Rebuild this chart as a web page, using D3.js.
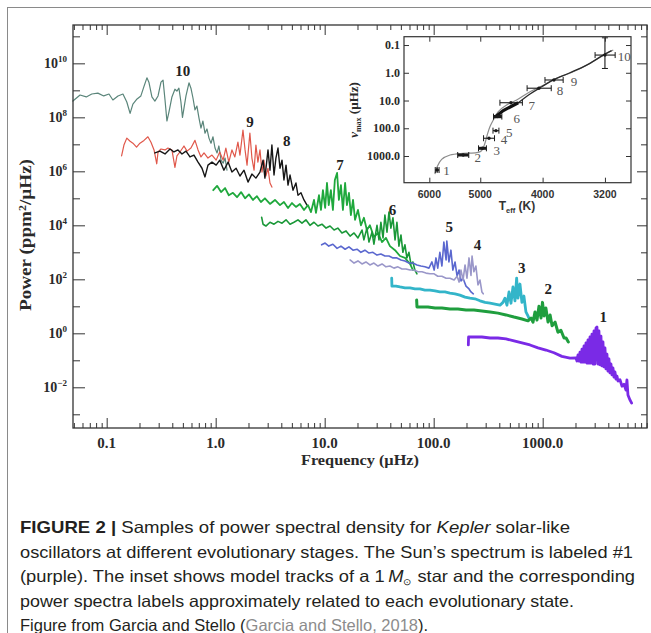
<!DOCTYPE html>
<html><head><meta charset="utf-8">
<script src="https://cdn.jsdelivr.net/npm/d3@7"></script>
<style>body{margin:0;background:#fff}svg{display:block}</style>
</head><body>
<svg id="c" width="651" height="633"></svg>
<script>
// ================= DATA =================
const freqTickValues = [0.1, 1, 10, 100, 1000];
const freqTickLabels = ["0.1", "1.0", "10.0", "100.0", "1000.0"];
const powerTickExponents = [-2, 0, 2, 4, 6, 8, 10];
const teffTickValues = [6000, 5000, 4000, 3200];
const teffTickLabels = ["6000", "5000", "4000", "3200"];
const numaxTickValues = [0.1, 1, 10, 100, 1000];
const numaxTickLabels = ["0.1", "1.0", "10.0", "100.0", "1000.0"];

// power spectra: [frequency (µHz), power (ppm^2/µHz)]
const spec10 = [[0.049,4.0e8],[0.057,6.7e8],[0.065,5.7e8],[0.073,7.3e8],[0.083,7.9e8],[0.094,6.2e8],[0.105,7.3e8],[0.114,4.4e8],[0.127,6.2e8],[0.141,7.3e8],[0.153,3.7e8],[0.164,1.4e8],[0.174,3.1e8],[0.190,4.8e8],[0.206,6.2e8],[0.220,1.4e9],[0.234,2.9e9],[0.244,2.0e9],[0.260,5.7e8],[0.277,4.0e8],[0.296,6.2e8],[0.315,2.0e9],[0.329,2.4e9],[0.343,4.4e8],[0.357,7.3e7],[0.373,1.6e8],[0.397,5.7e8],[0.423,1.1e9],[0.441,9.4e8],[0.460,1.2e9],[0.480,3.7e8],[0.496,1.0e8],[0.512,2.2e8],[0.534,6.2e8],[0.569,1.9e9],[0.593,1.2e9],[0.619,5.2e8],[0.646,1.9e8],[0.673,2.6e8],[0.703,9.4e7],[0.733,4.0e7],[0.764,7.3e7],[0.798,2.6e7],[0.832,3.7e7],[0.868,1.7e7],[0.906,1.1e7],[0.945,1.9e7],[0.986,7.3e6],[1.03,4.8e6],[1.07,8.7e6],[1.12,2.6e6],[1.17,2.0e6],[1.22,3.1e6],[1.27,1.1e6]];
const spec9 = [[0.137,3.7e6],[0.144,9.4e6],[0.153,1.7e7],[0.164,1.3e7],[0.174,1.1e7],[0.188,7.9e6],[0.202,1.1e7],[0.220,1.4e7],[0.239,1.9e7],[0.255,1.2e7],[0.272,6.2e6],[0.288,1.9e6],[0.296,5.2e6],[0.315,6.7e6],[0.343,6.2e6],[0.365,7.3e6],[0.397,6.2e6],[0.423,1.4e6],[0.441,3.7e6],[0.470,5.2e6],[0.512,8.7e6],[0.546,5.6e6],[0.593,7.3e6],[0.646,1.4e7],[0.689,6.2e6],[0.733,3.4e6],[0.782,4.8e6],[0.850,3.1e6],[0.925,4.0e6],[1.01,2.6e6],[1.09,5.2e6],[1.17,2.6e6],[1.24,7.3e6],[1.32,2.2e6],[1.41,6.2e6],[1.50,3.4e6],[1.60,1.2e7],[1.67,4.0e6],[1.78,3.4e7],[1.86,6.2e6],[1.94,1.7e6],[2.06,2.6e7],[2.15,3.1e6],[2.25,1.1e6],[2.34,9.4e6],[2.44,2.2e6],[2.55,6.2e6],[2.66,9.4e5],[2.77,2.6e6],[2.89,6.7e5],[3.02,1.3e6],[3.15,3.7e5],[3.28,2.6e5]];
const spec8 = [[0.277,4.8e6],[0.308,5.6e6],[0.343,4.4e6],[0.381,6.7e6],[0.414,5.2e6],[0.451,6.2e6],[0.491,4.4e6],[0.534,5.6e6],[0.581,3.4e6],[0.632,4.0e6],[0.689,2.2e6],[0.749,1.3e6],[0.798,6.2e5],[0.850,1.7e6],[0.925,2.2e6],[1.01,1.7e6],[1.09,2.6e6],[1.19,1.1e6],[1.30,2.2e6],[1.41,9.4e5],[1.54,1.3e6],[1.67,6.7e5],[1.82,1.1e6],[1.98,4.0e5],[2.15,7.9e5],[2.34,5.6e5],[2.55,9.4e5],[2.72,2.6e6],[2.83,5.6e5],[3.02,6.2e6],[3.15,1.1e6],[3.28,9.4e6],[3.43,7.3e5],[3.57,3.1e6],[3.73,7.3e6],[3.89,1.3e6],[4.06,2.6e6],[4.23,4.8e5],[4.42,1.7e6],[4.61,3.1e5],[4.81,7.3e5],[5.12,2.0e5],[5.45,3.7e5],[5.69,1.3e5],[6.06,1.6e5],[6.46,8.7e4],[6.88,5.6e4]];
const spec7 = [[0.95,2.0e5],[1.03,2.9e5],[1.12,1.7e5],[1.22,2.4e5],[1.32,1.3e5],[1.44,1.6e5],[1.57,1.1e5],[1.71,1.7e5],[1.86,1.0e5],[2.02,1.4e5],[2.20,8.7e4],[2.39,1.2e5],[2.60,7.3e4],[2.83,1.0e5],[3.15,6.2e4],[3.50,8.7e4],[3.89,5.6e4],[4.23,7.3e4],[4.61,4.4e4],[5.01,6.7e4],[5.45,4.8e4],[5.93,6.2e4],[6.46,3.7e4],[7.03,5.6e4],[7.49,3.1e4],[7.98,8.7e4],[8.32,2.9e4],[8.87,1.3e5],[9.25,3.7e4],[9.64,2.0e5],[10.1,4.4e4],[10.5,3.7e5],[10.9,5.6e4],[11.4,2.0e5],[11.9,3.7e4],[12.4,4.8e5],[13.0,8.7e5],[13.5,8.7e4],[14.1,3.1e5],[14.7,3.7e4],[15.4,3.7e5],[16.0,5.6e4],[16.7,1.6e5],[17.4,2.4e4],[18.2,8.7e4],[19.0,1.6e4],[20.2,3.7e4],[21.5,1.0e4],[22.9,1.9e4],[24.4,6.7e3],[26.0,1.0e4],[28.3,3.7e3],[30.8,5.2e3],[33.6,2.4e3],[36.5,3.4e3],[39.7,1.7e3],[44.2,1.2e3],[49.1,7.3e2],[54.6,6.2e2],[60.7,3.7e2],[64.6,2.2e2]];
const spec6 = [[2.64,2.0e4],[2.72,1.1e4],[2.89,9.4e3],[3.15,1.3e4],[3.43,1.1e4],[3.73,1.4e4],[4.06,1.2e4],[4.42,1.6e4],[4.81,1.1e4],[5.23,1.3e4],[5.69,1.6e4],[6.19,1.2e4],[6.73,1.6e4],[7.33,1.0e4],[7.98,1.3e4],[8.67,9.4e3],[9.44,1.1e4],[10.3,7.9e3],[11.2,9.4e3],[12.2,6.7e3],[13.2,7.9e3],[14.4,5.2e3],[15.7,6.2e3],[17.1,4.0e3],[18.6,5.2e3],[20.2,3.4e3],[22.0,6.7e3],[22.9,2.9e3],[24.4,7.9e3],[25.5,2.4e3],[27.2,5.6e3],[28.3,2.0e3],[30.2,1.0e4],[31.5,2.9e3],[32.8,1.3e4],[34.3,3.4e3],[35.7,2.4e4],[37.3,5.6e3],[38.9,3.1e4],[40.5,7.9e3],[42.3,1.9e4],[44.2,2.9e3],[46.0,1.3e4],[48.0,1.7e3],[50.1,4.4e3],[52.2,1.0e3],[54.5,1.9e3],[56.8,6.2e2],[59.3,1.0e3],[61.8,3.7e2],[64.5,4.4e2],[67.3,2.2e2],[70.2,1.6e2]];
const spec5 = [[9.38,1.9e3],[10.1,2.2e3],[10.9,1.7e3],[11.9,2.0e3],[13.0,1.4e3],[14.1,1.7e3],[15.4,1.3e3],[16.7,1.6e3],[18.2,1.2e3],[19.8,1.3e3],[21.5,1.0e3],[23.4,1.2e3],[25.5,9.4e2],[27.7,1.0e3],[30.2,7.9e2],[32.8,8.7e2],[35.7,7.3e2],[38.9,7.3e2],[42.3,6.2e2],[46.0,6.2e2],[50.1,5.2e2],[54.5,4.8e2],[59.3,4.0e2],[64.5,4.0e2],[70.2,3.4e2],[76.3,3.1e2],[83.1,2.9e2],[90.5,2.6e2],[96.4,4.4e2],[101,2.2e2],[105,6.2e2],[109,2.6e2],[114,1.0e3],[119,3.1e2],[124,2.4e3],[130,5.2e2],[132,2.6e3],[138,4.4e2],[144,1.2e3],[150,2.2e2],[157,4.4e2],[164,1.3e2],[171,2.2e2],[178,87],[186,1.1e2],[198,56],[211,44],[220,34],[231,29]];
const spec4 = [[17.1,5.2e2],[18.6,4.0e2],[20.2,4.8e2],[22.0,3.7e2],[23.9,4.4e2],[26.0,3.4e2],[28.3,4.0e2],[30.8,3.1e2],[33.6,3.7e2],[36.5,2.9e2],[39.7,3.1e2],[43.2,2.6e2],[47.0,2.9e2],[51.2,2.4e2],[55.7,2.4e2],[60.7,2.2e2],[65.9,2.2e2],[71.8,1.9e2],[78.1,1.9e2],[85.0,1.7e2],[92.5,1.6e2],[101,1.6e2],[109,1.3e2],[119,1.3e2],[130,1.1e2],[141,1.1e2],[154,94],[164,1.3e2],[171,79],[178,2.2e2],[186,94],[194,3.4e2],[202,1.1e2],[211,6.2e2],[220,1.4e2],[225,7.3e2],[234,1.9e2],[244,3.1e2],[255,62],[266,94],[277,34],[285,29]];
const spec3 = [[41.2,1.1e2],[41.4,56],[45.1,56],[49.1,52],[54.5,48],[60.7,48],[67.3,44],[74.8,44],[83.1,40],[92.5,40],[103,37],[114,34],[127,34],[141,31],[157,29],[174,26],[194,22],[215,20],[239,19],[266,16],[296,14],[329,13],[365,12],[406,11],[432,14],[451,20],[470,11],[491,34],[512,13],[534,52],[557,16],[577,1.1e2],[593,20],[619,67],[645,14],[673,24],[702,6.2],[733,4.4],[754,3.4]];
const spec2 = [[69.8,17],[70.3,9.4],[78.1,9.4],[88.6,9.4],[103,8.7],[119,8.7],[141,7.9],[167,7.9],[198,7.3],[234,7.3],[277,6.7],[329,6.2],[389,5.6],[461,4.8],[546,4.0],[646,3.4],[734,2.9],[782,3.7],[815,2.6],[851,6.2],[887,3.1],[925,10],[966,3.7],[996,14],[1030,4.4],[1070,8.7],[1120,2.6],[1170,4.8],[1220,1.9],[1300,2.6],[1380,1.1],[1470,1.3],[1570,0.67],[1640,0.67],[1720,0.48]];
const spec1 = [[208,0.37],[209,0.73],[239,0.73],[277,0.73],[329,0.67],[389,0.67],[461,0.62],[546,0.52],[646,0.44],[765,0.37],[906,0.29],[1070,0.24],[1270,0.19],[1500,0.14],[1780,0.12],[2021,0.122],[2064,0.094],[2109,0.157],[2153,0.094],[2199,0.20],[2246,0.086],[2294,0.26],[2343,0.086],[2393,0.34],[2444,0.086],[2496,0.44],[2549,0.079],[2603,0.565],[2659,0.079],[2716,0.73],[2774,0.079],[2833,0.94],[2893,0.073],[2955,1.22],[3018,0.073],[3083,1.57],[3149,1.71],[3216,0.073],[3284,1.22],[3355,0.068],[3426,0.79],[3499,0.062],[3574,0.48],[3650,0.057],[3728,0.29],[3807,0.048],[3889,0.17],[3972,0.040],[4057,0.112],[4143,0.034],[4232,0.073],[4322,0.029],[4415,0.052],[4509,0.024],[4605,0.037],[4703,0.020],[4804,0.026],[4907,0.017],[5120,0.019],[5340,0.011],[5570,0.013],[5810,0.0079],[5930,0.019],[6060,0.0052],[6320,0.0034],[6550,0.0026]];

const spectrumNames = ["10","9","8","7","6","5","4","3","2","1"];
const spectra = [spec10, spec9, spec8, spec7, spec6, spec5, spec4, spec3, spec2, spec1];
// label anchors [frequency, power]
const spectrumLabelAnchors = [[0.50,5.3e9],[2.06,6.9e7],[4.48,1.4e7],[13.8,1.7e6],[42,3.9e4],[139,8.5e3],[253,1.9e3],[642,2.6e2],[1125,46],[3600,4.1]];

// inset: model tracks [Teff (K), numax (µHz)]
const trackGray = [[5881,4460],[5833,2430],[5741,1316],[5571,920],[5314,800],[5064,760],[4977,644],[4917,348],[4877,175],[4830,88],[4772,50],[4688,25],[4550,14.5],[4389,9.6],[4184,4.8],[3990,2.8],[3804,1.58],[3585,0.92],[3377,0.46],[3181,0.20],[3106,0.15]];
const trackBlack = [[4745,40],[4604,23],[4365,12],[4184,5.8],[4013,3.2],[3851,1.8],[3627,1.0],[3417,0.53],[3219,0.23],[3125,0.16]];
const trackThick = [[4745,40],[4604,23],[4365,12]];
// inset stars: Teff, numax, Teff error (K)
const starLabels = ["1","2","3","4","5","6","7","8","9","10"];
const starTeff = [5834, 5315, 4961, 4846, 4727, 4698, 4480, 4053, 3841, 3200];
const starNumax = [3200, 920, 528, 229, 122, 38, 12, 3.6, 1.82, 0.23];
const starTeffErr = [40, 105, 70, 95, 50, 70, 180, 175, 125, 115];
const star10NumaxRange = [0.7, 0.055];
const starLabelAnchors = [[5640,3390],[5047,1114],[4714,608],[4593,250],[4507,145],[4389,44],[4159,14.5],[3760,4.4],[3576,2.1],[2985,0.26]];

// ================= STYLE =================
const specStyle = {
  "10": {c:"#5a857a", w:1.2}, "9": {c:"#e0574a", w:1.2}, "8": {c:"#161616", w:1.4},
  "7": {c:"#1fa83c", w:1.8}, "6": {c:"#1a9838", w:1.6}, "5": {c:"#5b68cf", w:1.6},
  "4": {c:"#9a97c9", w:1.6}, "3": {c:"#33b5c9", w:2.8}, "2": {c:"#1f9e3e", w:3.0},
  "1": {c:"#7a2ae6", w:2.8}
};
const thickBars = {"2":3, "3":3, "6":3.2};
const SERIF = "'Liberation Serif','Times New Roman',serif";
const SANS = "'Liberation Sans',Arial,sans-serif";
const AX = "#333";

const svg = d3.select("#c");
svg.append("rect").attr("width",651).attr("height",633).attr("fill","#fff");
// outer figure frame
svg.append("rect").attr("x",7.5).attr("y",7.5).attr("width",700).attr("height",700)
  .attr("fill","none").attr("stroke","#8a8a8a").attr("stroke-width",1);

// ================= MAIN PLOT =================
const L=73, R=647, T=25, B=428;
const x = d3.scaleLog().domain([0.0491, 9060]).range([L, R]);
const y = d3.scaleLog().domain([3.11e-4, 2.63e11]).range([B, T]);

const line = d3.line().x(d => x(d[0])).y(d => y(d[1]));
const gS = svg.append("g");
spectra.forEach((s, i) => {
  const st = specStyle[spectrumNames[i]];
  gS.append("path").attr("d", line(s)).attr("fill","none")
    .attr("stroke", st.c).attr("stroke-width", st.w)
    .attr("stroke-linejoin","round").attr("stroke-linecap","round");
});

// axes ticks (inward on all sides)
const minorX = [];
for (let e=-2; e<=3; e++) for (let m=2; m<=9; m++) { const v=m*Math.pow(10,e); if (v>x.domain()[0] && v<x.domain()[1]) minorX.push(v); }
const decY = d3.range(-3, 12).map(e => Math.pow(10,e));
const majY = decY.filter(v => powerTickExponents.includes(Math.round(Math.log10(v))));
const minY = decY.filter(v => !powerTickExponents.includes(Math.round(Math.log10(v))));

function styleAxis(g){ g.select(".domain").remove(); g.selectAll("line").attr("stroke",AX).attr("stroke-width",1); g.selectAll("text").remove(); }
svg.append("g").attr("transform",`translate(0,${B})`).call(d3.axisTop(x).tickValues(freqTickValues).tickSize(10)).call(styleAxis);
svg.append("g").attr("transform",`translate(0,${B})`).call(d3.axisTop(x).tickValues(minorX).tickSize(5)).call(styleAxis);
svg.append("g").attr("transform",`translate(0,${T})`).call(d3.axisBottom(x).tickValues(freqTickValues).tickSize(10)).call(styleAxis);
svg.append("g").attr("transform",`translate(0,${T})`).call(d3.axisBottom(x).tickValues(minorX).tickSize(5)).call(styleAxis);
svg.append("g").attr("transform",`translate(${L},0)`).call(d3.axisRight(y).tickValues(majY).tickSize(12)).call(styleAxis);
svg.append("g").attr("transform",`translate(${L},0)`).call(d3.axisRight(y).tickValues(minY).tickSize(7)).call(styleAxis);
svg.append("g").attr("transform",`translate(${R},0)`).call(d3.axisLeft(y).tickValues(majY).tickSize(10)).call(styleAxis);
svg.append("g").attr("transform",`translate(${R},0)`).call(d3.axisLeft(y).tickValues(minY).tickSize(6)).call(styleAxis);

svg.append("rect").attr("x",L).attr("y",T).attr("width",R-L).attr("height",B-T)
  .attr("fill","none").attr("stroke",AX).attr("stroke-width",1.3);

// tick labels
freqTickValues.forEach((v,i) => {
  svg.append("text").attr("x", x(v)).attr("y", B+20).attr("text-anchor","middle")
    .attr("font-family",SERIF).attr("font-weight","bold").attr("font-size",15).attr("fill","#2a2a2a")
    .text(freqTickLabels[i]);
});
powerTickExponents.forEach(e => {
  const t = svg.append("text").attr("x", L-6).attr("y", y(Math.pow(10,e))+5).attr("text-anchor","end")
    .attr("font-family",SERIF).attr("font-weight","bold").attr("font-size",14).attr("fill","#2a2a2a");
  t.append("tspan").text("10");
  t.append("tspan").attr("dy",-6).attr("font-size",9).text(String(e).replace("-","\u2212"));
});

// axis titles
svg.append("text").attr("x",(L+R)/2).attr("y",465).attr("text-anchor","middle")
  .attr("font-family",SERIF).attr("font-weight","bold").attr("font-size",15).attr("fill","#2a2a2a")
  .attr("textLength",118).attr("lengthAdjust","spacingAndGlyphs").text("Frequency (\u00b5Hz)");
const yt = svg.append("text").attr("transform","translate(31,235) rotate(-90)").attr("text-anchor","middle")
  .attr("font-family",SERIF).attr("font-weight","bold").attr("font-size",16).attr("fill","#2a2a2a")
  .attr("textLength",152).attr("lengthAdjust","spacingAndGlyphs");
yt.append("tspan").text("Power (ppm");
yt.append("tspan").attr("dy",-5).attr("font-size",10).text("2");
yt.append("tspan").attr("dy",5).text("/\u00b5Hz)");

// spectrum labels
spectrumLabelAnchors.forEach((a,i) => {
  svg.append("text").attr("x", x(a[0])).attr("y", y(a[1])).attr("dy","0.35em").attr("text-anchor","middle")
    .attr("font-family",SERIF).attr("font-weight","bold").attr("font-size",15).attr("fill","#222")
    .text(spectrumNames[i]);
});

// ================= INSET =================
const iL=404, iR=631, iT=36.7, iB=182.7;
const xi = d3.scaleLog().domain([6569, 2915]).range([iL, iR]);
const yi = d3.scaleLog().domain([0.0501, 9160]).range([iT, iB]);
svg.append("rect").attr("x",iL).attr("y",iT).attr("width",iR-iL).attr("height",iB-iT).attr("fill","#fff");

const il = d3.line().x(d => xi(d[0])).y(d => yi(d[1])).curve(d3.curveCatmullRom);
svg.append("path").attr("d", il(trackGray)).attr("fill","none").attr("stroke","#8c8c8c").attr("stroke-width",1.2);
svg.append("path").attr("d", il(trackBlack)).attr("fill","none").attr("stroke","#2b2b2b").attr("stroke-width",1.3);
svg.append("path").attr("d", d3.line().x(d=>xi(d[0])).y(d=>yi(d[1]))(trackThick)).attr("fill","none").attr("stroke","#111").attr("stroke-width",3.2);

const gE = svg.append("g").attr("stroke","#1a1a1a").attr("fill","#1a1a1a");
starLabels.forEach((lab,i) => {
  const cx = xi(starTeff[i]), cy = yi(starNumax[i]);
  const x1 = xi(starTeff[i]+starTeffErr[i]), x2 = xi(starTeff[i]-starTeffErr[i]);
  const w = thickBars[lab] || 1.1;
  gE.append("line").attr("x1",x1).attr("x2",x2).attr("y1",cy).attr("y2",cy).attr("stroke-width",w);
  [x1,x2].forEach(xx => gE.append("line").attr("x1",xx).attr("x2",xx).attr("y1",cy-3).attr("y2",cy+3).attr("stroke-width",1));
  if (lab === "1") {
    gE.append("line").attr("x1",cx).attr("x2",cx).attr("y1",cy-3).attr("y2",cy+3).attr("stroke-width",1);
  }
  if (lab === "10") {
    const y1 = yi(star10NumaxRange[0]), y2 = yi(star10NumaxRange[1]);
    gE.append("line").attr("x1",cx).attr("x2",cx).attr("y1",y1).attr("y2",y2).attr("stroke-width",1.1);
    [y1,y2].forEach(yy => gE.append("line").attr("x1",cx-3).attr("x2",cx+3).attr("y1",yy).attr("y2",yy).attr("stroke-width",1));
  }
  gE.append("circle").attr("cx",cx).attr("cy",cy).attr("r",1.7).attr("stroke","none");
});
starLabelAnchors.forEach((a,i) => {
  svg.append("text").attr("x", xi(a[0])).attr("y", yi(a[1])).attr("dy","0.35em").attr("text-anchor","middle")
    .attr("font-family",SERIF).attr("font-size",13).attr("fill","#555").text(starLabels[i]);
});

// inset axes
svg.append("g").attr("transform",`translate(0,${iB})`).call(d3.axisTop(xi).tickValues(teffTickValues).tickSize(5)).call(styleAxis);
svg.append("g").attr("transform",`translate(0,${iT})`).call(d3.axisBottom(xi).tickValues(teffTickValues).tickSize(5)).call(styleAxis);
svg.append("g").attr("transform",`translate(${iL},0)`).call(d3.axisRight(yi).tickValues(numaxTickValues).tickSize(5)).call(styleAxis);
svg.append("g").attr("transform",`translate(${iR},0)`).call(d3.axisLeft(yi).tickValues(numaxTickValues).tickSize(5)).call(styleAxis);
svg.append("rect").attr("x",iL).attr("y",iT).attr("width",iR-iL).attr("height",iB-iT)
  .attr("fill","none").attr("stroke",AX).attr("stroke-width",1.2);

teffTickValues.forEach((v,i) => {
  svg.append("text").attr("x", xi(v)).attr("y", iB+15.5).attr("text-anchor","middle")
    .attr("font-family",SANS).attr("font-weight","bold").attr("font-size",10.5).attr("fill","#333")
    .text(teffTickLabels[i]);
});
numaxTickValues.forEach((v,i) => {
  svg.append("text").attr("x", iL-4).attr("y", yi(v)+4).attr("text-anchor","end")
    .attr("font-family",SERIF).attr("font-weight","bold").attr("font-size",12).attr("fill","#2a2a2a")
    .text(numaxTickLabels[i]);
});
const xt = svg.append("text").attr("x",517).attr("y",210).attr("text-anchor","middle")
  .attr("font-family",SANS).attr("font-weight","bold").attr("font-size",12).attr("fill","#333");
xt.append("tspan").text("T");
xt.append("tspan").attr("dy",3).attr("font-size",7.5).text("eff");
xt.append("tspan").attr("dy",-3).text(" (K)");
const nt = svg.append("text").attr("transform","translate(358,110) rotate(-90)").attr("text-anchor","middle")
  .attr("font-family",SERIF).attr("font-weight","bold").attr("font-size",13).attr("fill","#2a2a2a");
nt.append("tspan").attr("font-style","italic").text("\u03bd");
nt.append("tspan").attr("dy",3).attr("font-size",8).text("max");
nt.append("tspan").attr("dy",-3).text(" (\u00b5Hz)");

// ================= CAPTION =================
const cap = svg.append("g").attr("font-family",SANS).attr("font-size",16.5).attr("fill","#231f20");
function capLine(yb, len, parts){
  const t = cap.append("text").attr("x",20).attr("y",yb);
  if (len) t.attr("textLength",len).attr("lengthAdjust","spacingAndGlyphs");
  parts.forEach(p => {
    const s = t.append("tspan").text(p.t);
    if (p.b) s.attr("font-weight","bold");
    if (p.i) s.attr("font-style","italic");
    if (p.c) s.attr("fill",p.c);
    if (p.dy) s.attr("dy",p.dy);
    if (p.fs) s.attr("font-size",p.fs);
  });
}
capLine(533, 550, [{t:"FIGURE 2 | ",b:true},{t:"Samples of power spectral density for "},{t:"Kepler",i:true},{t:" solar-like"}]);
capLine(557.5, 613, [{t:"oscillators at different evolutionary stages. The Sun\u2019s spectrum is labeled #1"}]);
capLine(582, 615, [{t:"(purple). The inset shows model tracks of a 1\u2009"},{t:"M",i:true},{t:"\u2299",fs:9,dy:3},{t:" star and the corresponding",dy:-3}]);
capLine(606.5, 554, [{t:"power spectra labels approximately related to each evolutionary state."}]);
capLine(630.5, null, [{t:"Figure from Garcia and Stello ("},{t:"Garcia and Stello, 2018",c:"#8c8c8c"},{t:")."}]);
</script>
</body></html>
